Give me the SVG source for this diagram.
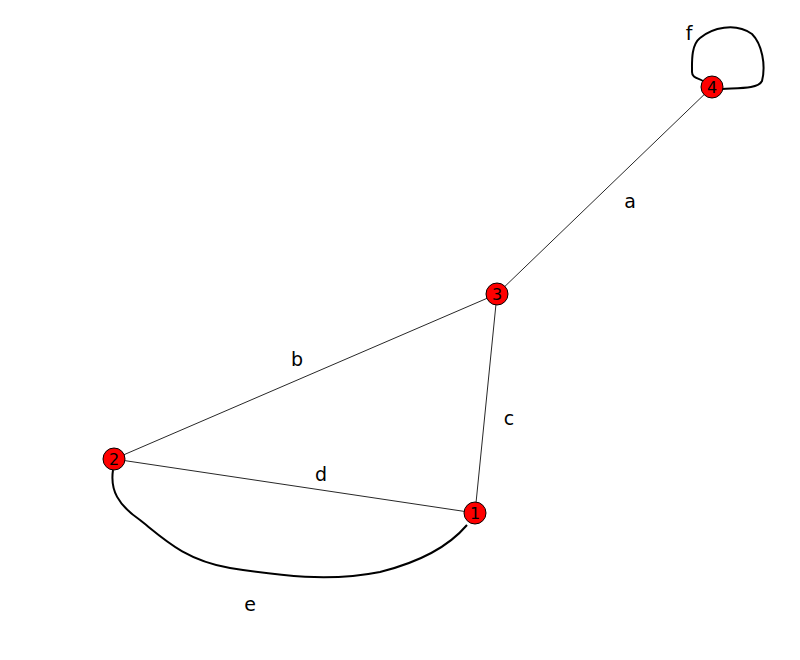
<svg xmlns="http://www.w3.org/2000/svg" width="800" height="660" viewBox="0 0 800 660">
<style>
.edge{fill:none;stroke:#000;stroke-width:1;stroke-opacity:0.85}
.curve{fill:none;stroke:#000;stroke-width:2;stroke-linejoin:round}
.node{fill:#ff0000;stroke:#000;stroke-width:1}
.nl{font-family:"DejaVu Sans",sans-serif;font-size:16px;fill:#000;text-anchor:middle}
.el{font-family:"DejaVu Sans",sans-serif;font-size:19px;fill:#000;text-anchor:middle}
</style>
<rect width="800" height="660" fill="#fff"/>
<g id="connectors">
<line class="edge" x1="712" y1="87" x2="497" y2="294"/>
<line class="edge" x1="497" y1="294" x2="114" y2="459"/>
<line class="edge" x1="497" y1="294" x2="475" y2="513"/>
<line class="edge" x1="114" y1="459" x2="475" y2="513"/>
<path class="curve" d="M113,470 C110,490 118,505 140,520 C165,540 185,560 230,568 C280,576 330,582 380,572 C420,562 450,545 467,525"/>
<path class="curve" d="M703,81 C698,78 692,78 692,72 C692,62 691,45 700,38 C712,28 735,22 752,34 C762,44 766,65 762,81 C758,89 740,88 722,89"/>
<text class="el" x="630" y="208">a</text>
<text class="el" x="297" y="366">b</text>
<text class="el" x="509" y="425">c</text>
<text class="el" x="321" y="481">d</text>
<text class="el" x="250" y="611">e</text>
<text class="el" x="689" y="40">f</text>
</g>
<g id="node1"><circle class="node" cx="475" cy="513" r="11"/><text class="nl" x="475" y="519">1</text></g>
<g id="node2"><circle class="node" cx="114" cy="459" r="11"/><text class="nl" x="114" y="465">2</text></g>
<g id="node3"><circle class="node" cx="497" cy="294" r="11"/><text class="nl" x="497" y="300">3</text></g>
<g id="node4"><circle class="node" cx="712" cy="87" r="11"/><text class="nl" x="712" y="93">4</text></g>
</svg>
